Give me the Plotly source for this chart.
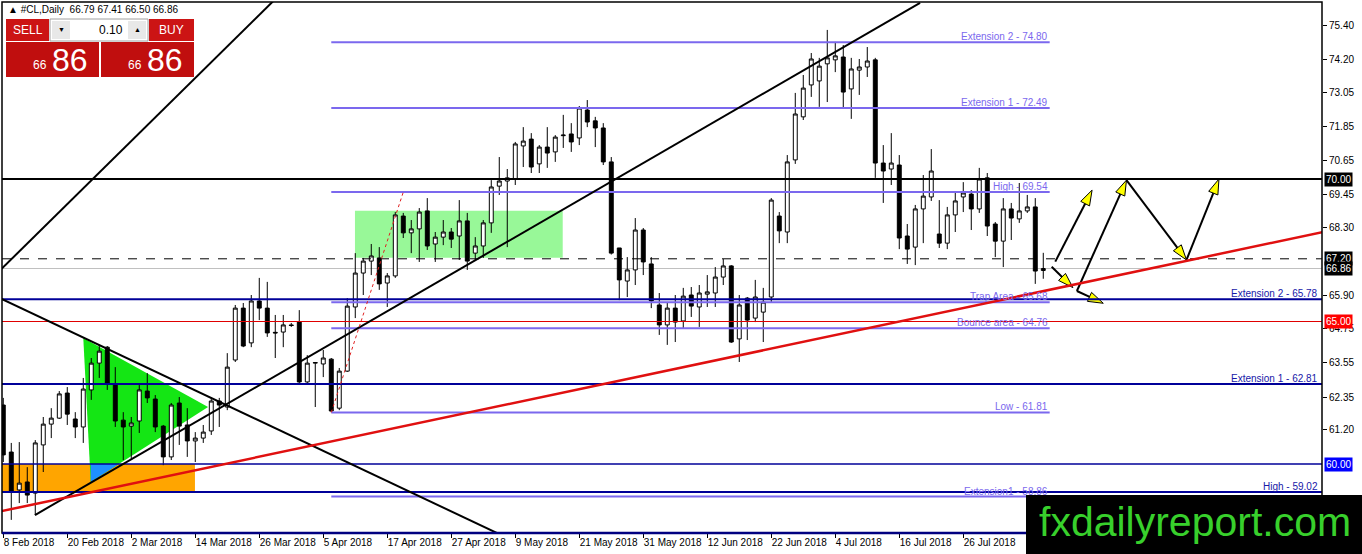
import plotly.graph_objects as go

# x-axis labels, one every 8 daily bars starting at bar 0
tick_labels = ["8 Feb 2018", "20 Feb 2018", "2 Mar 2018", "14 Mar 2018", "26 Mar 2018",
               "5 Apr 2018", "17 Apr 2018", "27 Apr 2018", "9 May 2018", "21 May 2018",
               "31 May 2018", "12 Jun 2018", "22 Jun 2018", "4 Jul 2018", "16 Jul 2018",
               "26 Jul 2018"]
tick_step = 8

# daily OHLC of #CL
opens = [62.07, 60.42, 59.09, 59.37, 58.98, 60.67, 61.40, 61.61, 62.49, 61.58,
         61.30, 62.60, 63.54, 64.10, 62.81, 61.54, 61.33, 61.51, 62.56, 62.28,
         61.33, 60.25, 62.14, 61.37, 60.81, 60.91, 61.16, 62.21, 62.00, 63.65,
         65.47, 64.25, 65.72, 65.47, 64.62, 64.63, 64.88, 64.98, 62.88, 63.54,
         63.51, 63.68, 61.96, 63.26, 65.51, 66.70, 67.12, 67.23, 66.35, 66.60,
         68.70, 68.11, 68.25, 68.88, 67.72, 67.96, 68.14, 68.00, 68.53, 67.40,
         67.65, 68.46, 69.75, 69.93, 70.00, 71.16, 71.40, 70.53, 71.12, 70.95,
         71.52, 71.58, 71.44, 72.42, 72.04, 71.79, 70.60, 67.58, 66.42, 66.81,
         68.21, 67.02, 65.58, 64.88, 65.47, 65.02, 65.93, 65.51, 65.96, 66.00,
         66.56, 66.95, 64.39, 65.82, 65.12, 65.33, 65.86, 68.70, 68.14, 70.67,
         72.18, 73.30, 73.44, 74.04, 74.18, 74.28, 73.16, 73.82, 73.93, 74.18,
         70.56, 70.35, 70.49, 68.00, 67.61, 68.95, 69.37, 68.07, 67.75, 68.74,
         69.37, 69.47, 68.95, 70.04, 68.42, 67.82, 68.95, 68.60, 68.88, 69.02,
         66.79]
highs = [62.32, 60.74, 60.77, 59.89, 60.84, 61.65, 61.96, 62.56, 62.70, 61.82,
         63.02, 63.72, 64.18, 64.14, 63.40, 61.82, 61.65, 62.77, 63.19, 62.42,
         61.37, 62.14, 62.35, 61.96, 61.12, 61.37, 62.35, 62.32, 63.89, 65.58,
         65.65, 65.93, 66.53, 66.39, 65.23, 65.23, 64.95, 65.40, 63.82, 63.58,
         64.00, 63.72, 63.37, 65.82, 67.40, 67.23, 67.72, 67.61, 66.70, 68.84,
         68.81, 68.56, 68.98, 69.33, 68.14, 68.56, 68.28, 69.26, 68.81, 67.96,
         68.56, 69.96, 70.77, 70.35, 71.30, 71.82, 71.61, 71.19, 71.82, 71.54,
         72.25, 71.96, 72.56, 72.77, 72.18, 71.96, 70.77, 67.58, 67.26, 68.63,
         68.28, 67.26, 66.00, 65.68, 65.93, 66.18, 66.21, 66.28, 66.63, 66.91,
         67.19, 66.98, 65.93, 65.86, 66.46, 66.18, 69.33, 68.84, 70.84, 73.02,
         73.65, 74.42, 74.25, 75.23, 74.81, 74.70, 74.25, 74.21, 74.63, 74.25,
         71.19, 71.61, 70.84, 68.42, 69.09, 70.14, 71.05, 69.26, 69.02, 69.51,
         69.89, 69.61, 70.39, 70.21, 68.49, 69.33, 69.16, 69.86, 69.44, 69.33,
         67.41]
lows = [60.07, 58.04, 58.63, 58.63, 58.21, 59.72, 60.91, 61.58, 61.37, 60.91,
        60.74, 62.25, 63.02, 62.60, 61.30, 60.14, 60.14, 61.09, 62.14, 61.12,
        59.96, 60.14, 60.67, 60.25, 60.07, 60.74, 61.02, 61.30, 61.89, 63.58,
        64.10, 64.10, 65.05, 64.46, 63.72, 64.10, 64.81, 62.84, 62.84, 62.00,
        63.05, 61.82, 61.89, 63.23, 65.12, 65.93, 66.63, 66.11, 65.51, 66.53,
        67.93, 67.40, 67.09, 67.51, 67.09, 67.68, 67.58, 67.16, 66.81, 67.16,
        67.23, 68.11, 69.44, 67.61, 69.79, 70.42, 70.21, 70.21, 70.39, 70.60,
        71.09, 70.95, 71.19, 71.82, 71.12, 70.49, 67.35, 65.75, 65.86, 66.28,
        66.63, 65.47, 64.53, 64.18, 64.28, 64.77, 65.16, 64.81, 65.51, 65.51,
        66.28, 64.25, 63.58, 64.35, 64.98, 64.28, 65.68, 67.75, 67.75, 70.53,
        72.07, 72.88, 72.53, 72.70, 73.75, 72.49, 72.11, 72.95, 73.58, 70.04,
        69.16, 69.79, 67.54, 67.02, 66.98, 67.75, 69.23, 67.58, 67.54, 68.14,
        68.84, 68.21, 68.81, 68.00, 67.26, 66.91, 67.86, 68.46, 68.81, 66.32,
        66.50]
closes = [60.32, 59.02, 59.33, 58.91, 60.74, 61.40, 61.61, 62.46, 61.75, 61.30,
          62.63, 63.54, 63.96, 62.84, 61.51, 61.30, 61.44, 62.60, 62.32, 61.30,
          60.25, 62.07, 61.33, 60.81, 60.91, 61.12, 62.21, 62.07, 63.40, 65.47,
          64.14, 65.72, 65.47, 64.60, 64.60, 64.88, 64.86, 62.88, 63.54, 63.56,
          63.72, 61.86, 63.26, 65.54, 66.70, 67.12, 67.30, 66.32, 66.60, 68.74,
          68.11, 68.25, 68.84, 67.65, 67.96, 68.14, 67.89, 68.53, 67.12, 67.65,
          68.46, 69.72, 69.93, 70.04, 71.23, 71.33, 70.42, 71.12, 70.91, 71.47,
          71.54, 71.30, 72.49, 72.00, 71.79, 70.60, 67.40, 66.46, 66.81, 68.21,
          67.09, 65.72, 64.88, 65.47, 64.98, 65.89, 65.54, 66.00, 66.04, 66.56,
          66.95, 64.28, 65.58, 65.05, 65.86, 65.68, 69.26, 68.18, 70.60, 72.28,
          73.19, 74.21, 73.96, 74.25, 74.32, 73.05, 73.86, 73.93, 74.14, 70.56,
          70.28, 70.56, 67.93, 67.54, 68.95, 69.40, 70.28, 67.75, 68.74, 69.23,
          69.51, 68.95, 70.00, 68.35, 67.82, 68.95, 68.63, 68.88, 69.02, 66.77,
          66.86]

# right-hand price scale
price_ticks = [75.40, 74.20, 73.05, 71.85, 70.65, 69.45, 68.30, 65.90, 64.75,
               63.55, 62.35, 61.20]

# full-width navy levels and their captions
navy_levels = [65.78, 62.81, 60.00, 59.02]
navy_labels = ["Extension 2 - 65.78", "Extension 1 - 62.81", "", "High - 59.02"]

# fibonacci-style levels drawn between two bars
fib_levels = [74.80, 72.49, 69.54, 65.68, 64.76, 61.81, 58.86]
fib_labels = ["Extension 2 - 74.80", "Extension 1 - 72.49", "High - 69.54",
              "Trap Area - 65.68", "Bounce area - 64.76", "Low - 61.81",
              "Extension1 - 58.86"]
fib_from, fib_to = 41, 130.8

# price tags on the axis: value, background
tag_values = [70.00, 67.20, 66.86, 65.00, 60.00]
tag_colors = ["black", "black", "black", "#FF0000", "#0000FF"]

# trend lines: (bar, price) pairs
black_trends = [[(-1.0, 66.63), (34.5, 76.45)],
                [(3.96, 58.21), (114.6, 76.18)],
                [(-1.0, 65.90), (64.2, 57.25)]]
red_trend = [(-1.0, 58.30), (166.0, 68.20)]
fib_diag = [(41, 61.81), (50, 69.54)]

# projected path arrows
arrows = [[(131.5, 67.10), (136.1, 69.61)],
          [(131.05, 66.92), (133.7, 66.19)],
          [(134.2, 66.07), (137.5, 65.64)],
          [(134.2, 66.07), (140.4, 69.96)],
          [(140.4, 69.96), (147.9, 67.16)],
          [(147.9, 67.16), (151.96, 70.00)]]

NAVY = "#000099"
SLATE = "#7B68EE"
FONT = "Liberation Sans"

W, H = 1362, 554
L, R, T, B = 2, 40, 2, 21


def px(x):
    return (x - L) / (W - L - R)


def py(y):
    return (H - B - y) / (H - T - B)


bars = list(range(len(opens)))

fig = go.Figure()
fig.add_trace(go.Candlestick(
    x=bars, open=opens, high=highs, low=lows, close=closes,
    increasing=dict(fillcolor="white", line=dict(color="black", width=1)),
    decreasing=dict(fillcolor="black", line=dict(color="black", width=1)),
    whiskerwidth=0, showlegend=False, hoverinfo="skip"))

shapes = []
annotations = []

# background zones
shapes.append(dict(type="rect", xref="x", yref="y", x0=-1, x1=23.96, y0=59.04, y1=60.0,
                   fillcolor="#FFA500", line_width=0, layer="below"))
shapes.append(dict(type="path", xref="x", yref="y", layer="below",
                   path="M10.0,64.42 L10.93,59.37 L25.6,62.0 Z",
                   fillcolor="#14E614", line_width=0))
shapes.append(dict(type="path", xref="x", yref="y", layer="below",
                   path="M10.93,60.0 L10.93,59.37 L14.45,60.0 Z",
                   fillcolor="#1E90FF", line_width=0))
shapes.append(dict(type="rect", xref="x", yref="y", x0=43.96, x1=69.93, y0=67.24, y1=68.89,
                   fillcolor="#98F898", line_width=0, layer="below"))

# horizontal levels
shapes.append(dict(type="line", xref="paper", yref="y", x0=0, x1=1, y0=66.86, y1=66.86,
                   line=dict(color="#C0C0C0", width=1), layer="below"))
shapes.append(dict(type="line", xref="paper", yref="y", x0=0, x1=1, y0=67.20, y1=67.20,
                   line=dict(color="black", width=1, dash="dash"), layer="above"))
shapes.append(dict(type="line", xref="paper", yref="y", x0=0, x1=1, y0=65.0, y1=65.0,
                   line=dict(color="#E00000", width=1), layer="above"))
shapes.append(dict(type="line", xref="paper", yref="y", x0=0, x1=1, y0=70.0, y1=70.0,
                   line=dict(color="black", width=2), layer="above"))
for lvl, lab in zip(navy_levels, navy_labels):
    shapes.append(dict(type="line", xref="paper", yref="y", x0=0, x1=1, y0=lvl, y1=lvl,
                       line=dict(color=NAVY, width=2 if lab else 1.5), layer="above"))
    if lab:
        annotations.append(dict(x=1, xref="paper", y=lvl, yref="y", text=lab,
                                xanchor="right", yanchor="bottom", showarrow=False,
                                xshift=-2, yshift=-2,
                                font=dict(family=FONT, size=10, color="#1818A8")))
for lvl, lab in zip(fib_levels, fib_labels):
    shapes.append(dict(type="line", xref="x", yref="y", x0=fib_from, x1=fib_to,
                       y0=lvl, y1=lvl, line=dict(color=SLATE, width=2), layer="above"))
    annotations.append(dict(x=fib_to, xref="x", y=lvl, yref="y", text=lab,
                            xanchor="right", yanchor="bottom", showarrow=False, yshift=-2,
                            font=dict(family=FONT, size=10, color=SLATE)))

# trend lines
for (x0, y0), (x1, y1) in black_trends:
    shapes.append(dict(type="line", xref="x", yref="y", x0=x0, y0=y0, x1=x1, y1=y1,
                       line=dict(color="black", width=2), layer="above"))
shapes.append(dict(type="line", xref="x", yref="y", x0=red_trend[0][0], y0=red_trend[0][1],
                   x1=red_trend[1][0], y1=red_trend[1][1],
                   line=dict(color="#E01010", width=2.5), layer="above"))
shapes.append(dict(type="line", xref="x", yref="y", x0=fib_diag[0][0], y0=fib_diag[0][1],
                   x1=fib_diag[1][0], y1=fib_diag[1][1],
                   line=dict(color="#E02020", width=1, dash="dot"), layer="above"))

# arrows with yellow heads
for (x0, y0), (x1, y1) in arrows:
    fig.add_trace(go.Scatter(
        x=[x0, x1], y=[y0, y1], mode="lines+markers", showlegend=False, hoverinfo="skip",
        line=dict(color="black", width=2),
        marker=dict(symbol="arrow", size=16, angleref="previous", color="#FFFF00",
                    line=dict(color="black", width=1))))

# frame
shapes.append(dict(type="rect", xref="paper", yref="paper", x0=0, x1=1, y0=0, y1=1,
                   line=dict(color="black", width=1.5), layer="above"))
shapes.append(dict(type="line", xref="paper", yref="paper", x0=0, x1=1, y0=0, y1=0,
                   line=dict(color="#000080", width=2.5), layer="above"))

# price tags
for v, c in zip(tag_values, tag_colors):
    annotations.append(dict(x=1, xref="paper", y=v, yref="y", text=f"{v:.2f}",
                            xanchor="left", yanchor="middle", showarrow=False, xshift=2,
                            bgcolor=c, borderpad=1,
                            font=dict(family=FONT, size=10, color="white")))

# trade panel (top-left)
RED = "#CC1414"
shapes += [
    dict(type="rect", xref="paper", yref="paper", x0=px(6), x1=px(49), y0=py(41), y1=py(19),
         fillcolor=RED, line_width=0, layer="above"),
    dict(type="rect", xref="paper", yref="paper", x0=px(50), x1=px(148), y0=py(41), y1=py(19),
         fillcolor="white", line=dict(color="#A0A0A0", width=1), layer="above"),
    dict(type="rect", xref="paper", yref="paper", x0=px(52), x1=px(70), y0=py(39), y1=py(21),
         fillcolor="#E8E8E8", line_width=0, layer="above"),
    dict(type="rect", xref="paper", yref="paper", x0=px(128), x1=px(146), y0=py(39), y1=py(21),
         fillcolor="#E8E8E8", line_width=0, layer="above"),
    dict(type="rect", xref="paper", yref="paper", x0=px(149), x1=px(194), y0=py(41), y1=py(19),
         fillcolor=RED, line_width=0, layer="above"),
    dict(type="rect", xref="paper", yref="paper", x0=px(6), x1=px(99), y0=py(77), y1=py(42),
         fillcolor="#C00E0E", line_width=0, layer="above"),
    dict(type="rect", xref="paper", yref="paper", x0=px(101), x1=px(194), y0=py(77), y1=py(42),
         fillcolor="#C00E0E", line_width=0, layer="above"),
]


def label(x, y, text, size, color="white", anchor="center"):
    annotations.append(dict(x=px(x), y=py(y), xref="paper", yref="paper", text=text,
                            xanchor=anchor, yanchor="middle", showarrow=False,
                            font=dict(family=FONT, size=size, color=color)))


label(6, 9, "▲ #CL,Daily  66.79 67.41 66.50 66.86", 10, "black", "left")
label(28, 30, "SELL", 12)
label(171, 30, "BUY", 12)
label(61, 30, "▼", 7, "black")
label(137, 30, "▲", 7, "black")
label(125, 30, "0.10", 12, "black", "right")
label(40, 65, "66", 12)
label(70, 60, "86", 32)
label(135, 65, "66", 12)
label(165, 60, "86", 32)

# watermark
shapes.append(dict(type="rect", xref="paper", yref="paper", x0=px(1026), x1=px(1365),
                   y0=py(557), y1=py(495), fillcolor="black", line_width=0, layer="above"))
label(1195, 522, "fxdailyreport.com", 41, "#38D02C")

fig.update_layout(
    width=W, height=H, margin=dict(l=L, r=R, t=T, b=B, autoexpand=False),
    paper_bgcolor="white", plot_bgcolor="white",
    shapes=shapes, annotations=annotations, showlegend=False,
    font=dict(family=FONT, size=10, color="black"),
    xaxis=dict(range=[-0.16, 164.84], rangeslider=dict(visible=False), showgrid=False,
               zeroline=False, tickvals=[i * tick_step for i in range(len(tick_labels))],
               ticktext=tick_labels, ticks="outside", ticklen=4, tickcolor="black",
               tickangle=0, automargin=False,
               ticklabelposition="outside right", tickfont=dict(family=FONT, size=10)),
    yaxis=dict(range=[57.58, 76.21], side="right", showgrid=False, zeroline=False,
               tickvals=price_ticks, tickformat=".2f", ticks="outside", ticklen=4,
               tickcolor="black", automargin=False, tickfont=dict(family=FONT, size=10)),
)

fig.write_html("out.html", config={"displayModeBar": False},
               post_script="document.body.style.margin='0';")
